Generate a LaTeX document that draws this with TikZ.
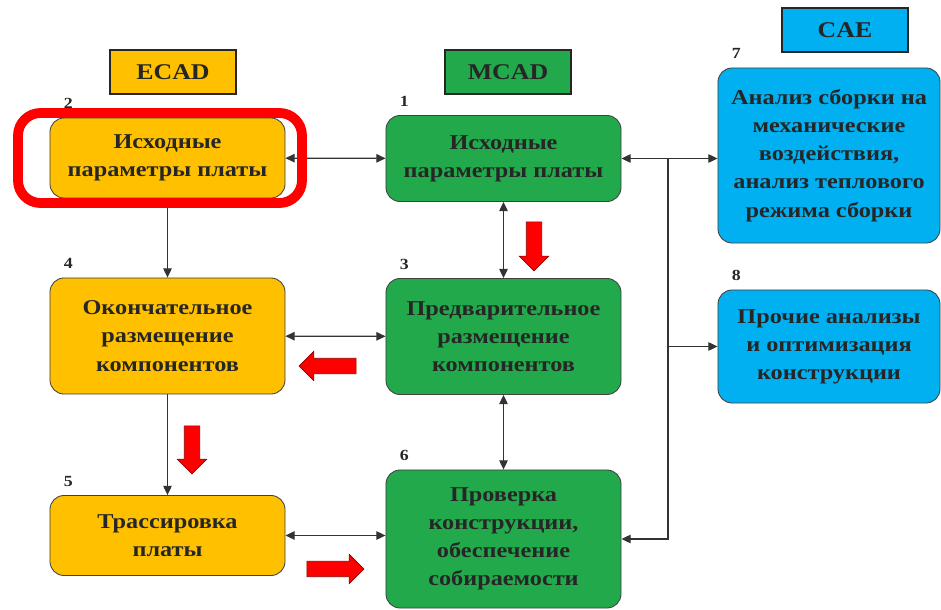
\documentclass[tikz,border=0pt]{standalone}
\usepackage{fontspec}
\setmainfont{Liberation Serif}[FakeStretch=1.15]
\usetikzlibrary{arrows.meta,positioning,shapes.arrows}

\definecolor{ecadorange}{HTML}{FFC000}
\definecolor{mcadgreen}{HTML}{22A94B}
\definecolor{caeblue}{HTML}{00B0F0}

\begin{document}
\begin{tikzpicture}[
  x=0.025cm, y=-0.025cm,
  font=\bfseries\fontsize{15}{20}\selectfont,
  >={Triangle[length=6.5pt,width=6pt]},
  block/.style={
    draw=black!75,
    fill=#1,
    rounded corners=10pt,
    line width=0.6pt,
    minimum width=5.875cm,
    align=center,
    text=black!85,
    inner sep=3pt
  },
  block/.default=ecadorange,
  head/.style={
    draw=black!85,
    fill=#1,
    line width=1.5pt,
    minimum width=3.15cm,
    minimum height=1.1cm,
    text=black!85,
    font=\bfseries\fontsize{16}{18}\selectfont
  },
  num/.style={inner sep=1pt, text=black!85, font=\bfseries\fontsize{11}{12}\selectfont},
  arr/.style={line width=0.8pt, draw=black!80},
  redarrow/.style={
    single arrow,
    draw=red!55!black,
    fill=red,
    line width=0.4pt,
    inner sep=5.3pt,
    single arrow head extend=5pt,
    minimum height=#1
  },
  hilite/.style={draw=red, line width=7pt, rounded corners=16pt}
]
\useasboundingbox (0,0) rectangle (941,610);

% ===== Column headers =====
\node[head=ecadorange] (hecad) at (173,72)  {ECAD};
\node[head=mcadgreen]  (hmcad) at (508,72)  {MCAD};
\node[head=caeblue]    (hcae)  at (845,30)  {CAE};

% ===== Blocks =====
\node[block, minimum height=2cm]             (b2) at (167.5,158)   {Исходные\\параметры платы};
\node[block=mcadgreen, minimum height=2.15cm] (b1) at (503.5,158.5) {Исходные\\параметры платы};
\node[block, minimum height=2.9cm]           (b4) at (167.5,336)   {Окончательное\\размещение\\компонентов};
\node[block=mcadgreen, minimum height=2.9cm] (b3) at (503.5,336.5) {Предварительное\\размещение\\компонентов};
\node[block, minimum height=2cm]             (b5) at (167.5,535.5) {Трассировка\\платы};
\node[block=mcadgreen, minimum height=3.45cm] (b6) at (503.5,539)  {Проверка\\конструкции,\\обеспечение\\собираемости};
\node[block=caeblue, minimum width=5.55cm, minimum height=4.375cm] (b7) at (829,155.5) {Анализ сборки на\\механические\\воздействия,\\анализ теплового\\режима сборки};
\node[block=caeblue, minimum width=5.55cm, minimum height=2.825cm] (b8) at (829,346.5) {Прочие анализы\\и оптимизация\\конструкции};

% ===== Numbers =====
\node[num, above right=5pt and 9pt of b1.north west] (n1) {1};
\node[num, above right=5pt and 9pt of b2.north west] (n2) {2};
\node[num, above right=5pt and 9pt of b3.north west] (n3) {3};
\node[num, above right=5pt and 9pt of b4.north west] (n4) {4};
\node[num, above right=5pt and 9pt of b5.north west] (n5) {5};
\node[num, above right=5pt and 9pt of b6.north west] (n6) {6};
\node[num, above right=5pt and 9pt of b7.north west] (n7) {7};
\node[num, above right=5pt and 9pt of b8.north west] (n8) {8};

% ===== Connectors =====
\draw[arr, <->] (b2) -- (b1);
\draw[arr, ->]  (b2) -- (b4);
\draw[arr, <->] (b4) -- (b3);
\draw[arr, ->]  (b4) -- (b5);
\draw[arr, <->] (b5) -- (b5 -| b6.west);
\draw[arr, <->] (b1) -- (b3);
\draw[arr, <->] (b3) -- (b6);

\coordinate (bus) at (668,158.5);
\draw[arr, <->] (b1) -- (b1 -| b7.west);
\draw[arr, ->]  (bus) |- (b6);
\draw[arr, ->]  (bus |- b8) -- (b8);

% ===== Flow arrows =====
\node[redarrow=1.225cm, rotate=-90] (ra1) at (534,242.5) {};
\node[redarrow=1.425cm, rotate=180] (ra2) at (331.5,366) {};
\node[redarrow=1.2cm,   rotate=-90] (ra3) at (192,446)   {};
\node[redarrow=1.425cm]             (ra4) at (331.5,569) {};

% ===== Highlight =====
\draw[hilite] (18,113) rectangle (302,203);

\end{tikzpicture}
\end{document}
